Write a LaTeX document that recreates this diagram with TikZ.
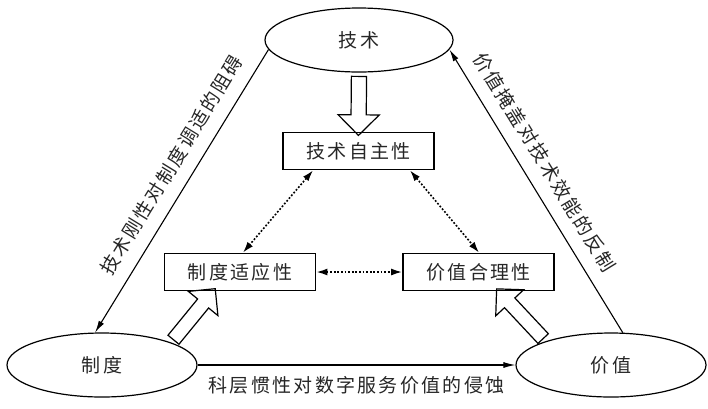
\documentclass[tikz,border=0pt]{standalone}
\usepackage{fontspec}
\newfontfamily\cjk[LetterSpace=12]{Noto Sans CJK SC}
\usetikzlibrary{shapes.geometric,shapes.arrows,arrows.meta,calc}
\begin{document}
\begin{tikzpicture}[x=1pt,y=-1pt,
  lab/.style={font=\cjk\fontsize{19}{19}\selectfont, text=black!85},
  ell/.style={ellipse, draw, line width=1.2pt, minimum width=190pt, minimum height=64pt, inner sep=0pt, lab},
  boxnode/.style={rectangle, draw, line width=1.8pt, minimum width=151pt, minimum height=37pt, inner sep=0pt, lab},
  conn/.style={line width=1.1pt, -{Latex[length=12pt,width=6pt]}},
  dotconn/.style={line width=1.6pt, dash pattern=on 1.8pt off 1.8pt, {Latex[length=11pt,width=7pt]}-{Latex[length=11pt,width=7pt]}},
  harrow/.style={single arrow, draw, line width=1.2pt, inner xsep=0pt, inner ysep=7pt, single arrow head extend=13pt, single arrow tip angle=90, minimum width=0pt},
  rlab/.style={lab, inner sep=0pt, sloped, above=13pt}
]
\useasboundingbox (0,0) rectangle (708,408);
\node[ell, minimum width=188pt] (tech) at (359,40) {技术};
\node[ell] (zhidu) at (102,365) {制度};
\node[ell] (jiazhi) at (611,365) {价值};
\node[boxnode] (A) at (358.5,151) {技术自主性};
\node[boxnode] (B) at (240,272) {制度适应性};
\node[boxnode] (C) at (478.5,272) {价值合理性};

\draw[conn] (tech.186) -- node[rlab, pos=0.45] {技术刚性对制度调适的阻碍} (zhidu.102);
\draw[conn] (jiazhi.70) -- node[rlab, pos=0.56] {价值掩盖对技术效能的反制} (tech.354);
\draw[conn] (zhidu.east) -- node[lab, inner sep=0pt, below=11pt] {科层惯性对数字服务价值的侵蚀} (jiazhi.west);

\draw[dotconn] ($(A.south)+(-45.5,0)$) -- ($(B.north)+(3,0)$);
\draw[dotconn] ($(A.south)+(51.5,0)$) -- ($(C.north)+(0.5,0)$);
\draw[dotconn] (B.east) -- (C.west);

\path let \p1=(tech.south), \p2=(A.north), \n1={atan2(\y2-\y1,\x2-\x1)}, \n2={veclen(\x2-\x1,\y2-\y1)} in
  node[harrow, minimum height=\n2, rotate=\n1] (H1) at ($(\p1)!0.5!(\p2)$) {};
\path let \p1=(zhidu.18), \p2=($(B.south)+(-27,0)$), \n1={atan2(\y2-\y1,\x2-\x1)}, \n2={veclen(\x2-\x1,\y2-\y1)} in
  node[harrow, inner ysep=6.5pt, single arrow head extend=12pt, minimum height=\n2, rotate=\n1] (H2) at ($(\p1)!0.5!(\p2)$) {};
\path let \p1=(jiazhi.160), \p2=($(C.south)+(20.5,0)$), \n1={atan2(\y2-\y1,\x2-\x1)}, \n2={veclen(\x2-\x1,\y2-\y1)} in
  node[harrow, inner ysep=6.5pt, single arrow head extend=12pt, minimum height=\n2, rotate=\n1] (H3) at ($(\p1)!0.5!(\p2)$) {};
\end{tikzpicture}
\end{document}
